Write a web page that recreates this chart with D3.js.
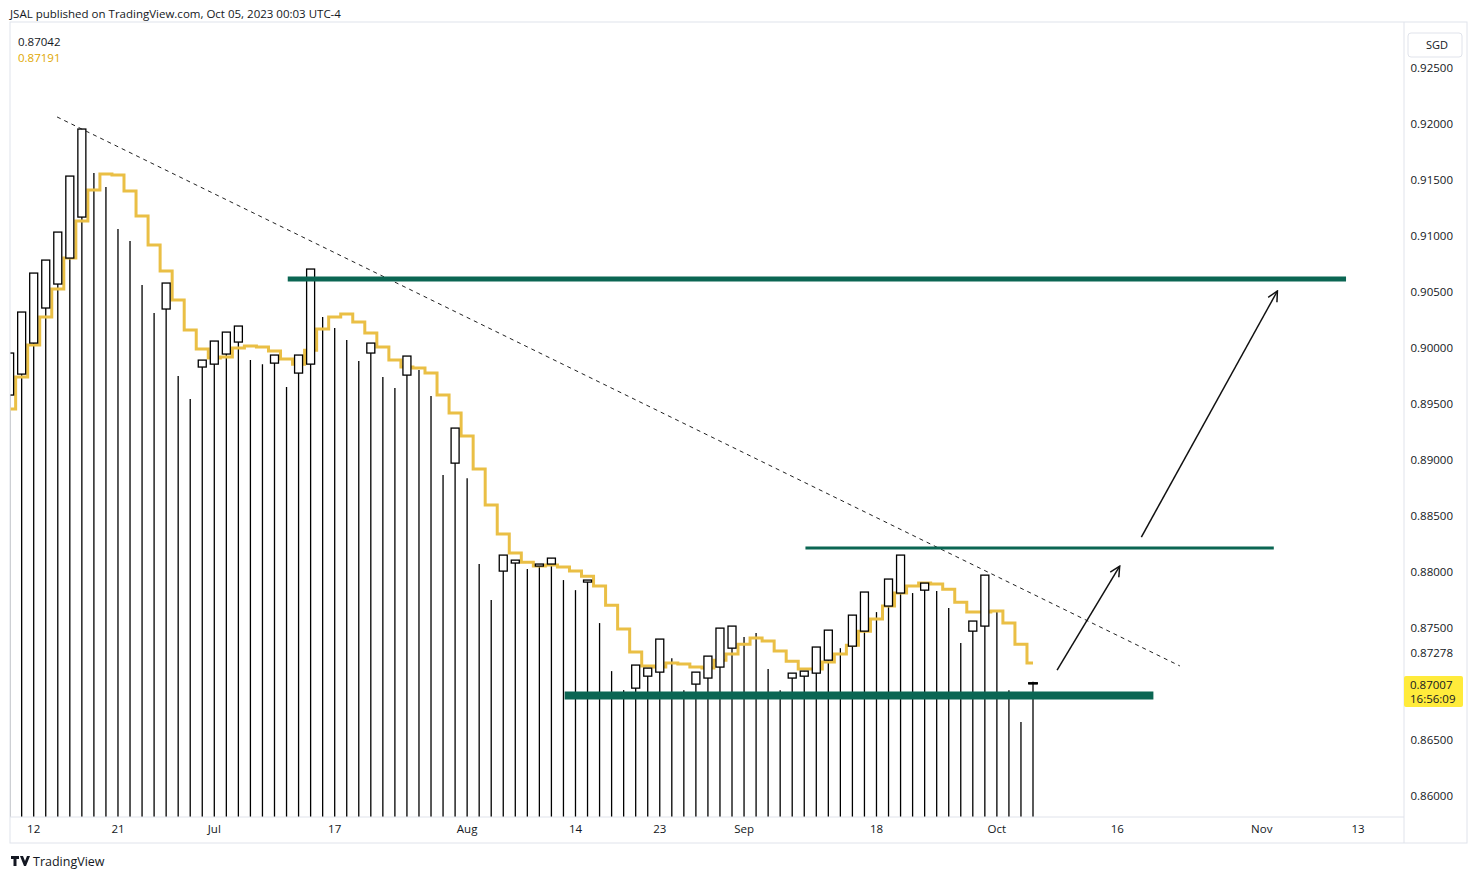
<!DOCTYPE html>
<html><head><meta charset="utf-8">
<script src="https://cdn.jsdelivr.net/npm/d3@7"></script>
<style>body{margin:0;background:#fff;font-family:"Open Sans",Roboto,sans-serif}</style>
</head><body><div id="chart"></div>
<script>
// bar index -2 = Jun 8, 0 = Jun 12, 83 = Oct 5 (trading days)
var firstIndex = -2;
var highs = [0.89955,0.90321,0.90669,0.90785,0.91035,0.91535,0.91955,0.91562,0.91437,0.91062,
  0.90955,0.90562,0.90312,0.90580,0.89749,0.89544,0.89892,0.90062,0.90142,0.90196,
  0.89892,0.89856,0.89937,0.89651,0.89937,0.90705,0.90276,0.90178,0.90071,0.89883,
  0.90044,0.89740,0.89642,0.89928,0.89803,0.89571,0.88865,0.89285,0.88838,0.88071,
  0.87749,0.88151,0.88106,0.88026,0.88071,0.88124,0.87928,0.87838,0.87928,0.87544,
  0.87115,0.86945,0.87169,0.87142,0.87401,0.87231,0.86945,0.87106,0.87249,0.87499,
  0.87517,0.87419,0.87455,0.87133,0.86945,0.87097,0.87115,0.87330,0.87481,0.87320,
  0.87615,0.87821,0.87642,0.87937,0.88151,0.87812,0.87901,0.87830,0.87678,0.87365,
  0.87562,0.87972,0.87660,0.86945,0.86660,0.87020];
var bodyHi = [0.89955,0.90321,0.90669,0.90785,0.91035,0.91535,0.91955,null,null,null,
  null,null,null,0.90580,null,null,0.89892,0.90062,0.90142,0.90196,
  null,null,0.89937,null,0.89937,0.90705,null,null,null,null,
  0.90044,null,null,0.89928,null,null,null,0.89285,null,null,
  null,0.88151,0.88106,null,0.88071,0.88124,null,null,0.87928,null,
  null,null,0.87169,0.87142,0.87401,null,null,0.87106,0.87249,0.87499,
  0.87517,null,null,null,null,0.87097,0.87115,0.87330,0.87481,null,
  0.87615,0.87821,null,0.87937,0.88151,null,0.87901,null,null,null,
  0.87562,0.87972,null,null,null,0.87010];
var bodyLo = [0.89580,0.89767,0.90044,0.90357,0.90571,0.90803,0.91169,null,null,null,
  null,null,null,0.90348,null,null,0.89830,0.89856,0.89946,0.90053,
  null,null,0.89865,null,0.89776,0.89856,null,null,null,null,
  0.89955,null,null,0.89758,null,null,null,0.88972,null,null,
  null,0.88008,0.88080,null,0.88053,0.88071,null,null,0.87910,null,
  null,null,0.86963,0.87070,0.87106,null,null,0.86999,0.87053,0.87151,
  0.87320,null,null,null,null,0.87053,0.87070,0.87097,0.87213,null,
  0.87338,0.87472,null,0.87696,0.87812,null,0.87838,null,null,null,
  0.87472,0.87517,null,null,null,0.87004];
var avgLine = [0.89455,0.89740,0.90026,0.90276,0.90526,0.90803,0.91134,0.91410,0.91553,0.91544,
  0.91401,0.91178,0.90919,0.90687,0.90428,0.90161,0.89990,0.89910,0.89919,0.89999,
  0.90017,0.90008,0.89973,0.89901,0.89856,0.89981,0.90169,0.90276,0.90303,0.90232,
  0.90133,0.90008,0.89892,0.89830,0.89821,0.89776,0.89580,0.89419,0.89214,0.88919,
  0.88598,0.88339,0.88169,0.88088,0.88053,0.88062,0.88044,0.88008,0.87963,0.87874,
  0.87704,0.87490,0.87285,0.87160,0.87151,0.87187,0.87178,0.87151,0.87142,0.87213,
  0.87267,0.87356,0.87410,0.87383,0.87294,0.87204,0.87133,0.87133,0.87196,0.87267,
  0.87347,0.87472,0.87580,0.87696,0.87812,0.87874,0.87901,0.87892,0.87847,0.87731,
  0.87642,0.87642,0.87651,0.87544,0.87356,0.87187];
var priceTicks = [0.925,0.92,0.915,0.91,0.905,0.90,0.895,0.89,0.885,0.88,0.875,0.865,0.86];
var dateTicks = [{i:0,t:"12"},{i:7,t:"21"},{i:15,t:"Jul"},{i:25,t:"17"},{i:36,t:"Aug"},{i:45,t:"14"},
  {i:52,t:"23"},{i:59,t:"Sep"},{i:70,t:"18"},{i:80,t:"Oct"},{i:90,t:"16"},{i:102,t:"Nov"},{i:110,t:"13"}];
// drawings: [index, price]
var trendLine = [[1.94,0.92063],[95.2,0.87161]];
var levels = [{a:21.1,b:109,p:0.90616,w:5},{a:64.1,b:103,p:0.88214,w:3},{a:44.1,b:93,p:0.86897,w:8}];
var arrows = [[[85.0,0.87124],[90.2,0.88053]],[[92.0,0.88312],[103.3,0.90509]]];

var W = 1477, H = 879, left = 10, right = 1404, top = 22, bottom = 817;
var x = d3.scaleLinear().domain([0, 83]).range([33.7, 1033]);
var y = d3.scaleLinear().domain([0.925, 0.86]).range([68, 796]);
var green = "#0b6653", gold = "#eabf45";

var svg = d3.select("#chart").append("svg").attr("width", W).attr("height", H);
svg.append("defs").append("marker").attr("id", "arr").attr("viewBox", "0 0 12 12")
  .attr("refX", 11).attr("refY", 6).attr("markerWidth", 12).attr("markerHeight", 12)
  .attr("markerUnits", "userSpaceOnUse").attr("orient", "auto")
  .append("path").attr("d", "M1,1 L11,6 L1,11").attr("fill", "none").attr("stroke", "#111").attr("stroke-width", 1.5);

var g = svg.append("g");
var bars = highs.map(function(h, k) { return {i: k + firstIndex, h: h, bh: bodyHi[k], bl: bodyLo[k], m: avgLine[k]}; });

g.selectAll("line.wick").data(bars).enter().append("line")
  .attr("x1", function(d) { return x(d.i); }).attr("x2", function(d) { return x(d.i); })
  .attr("y1", function(d) { return y(d.h); }).attr("y2", bottom)
  .attr("stroke", "#000").attr("stroke-width", 1.3);

g.append("path").datum(bars)
  .attr("d", d3.line().x(function(d) { return x(d.i); }).y(function(d) { return y(d.m); }).curve(d3.curveStep))
  .attr("fill", "none").attr("stroke", gold).attr("stroke-width", 3);

g.selectAll("rect.body").data(bars.filter(function(d) { return d.bh != null; })).enter().append("rect")
  .attr("x", function(d) { return x(d.i) - 4; }).attr("width", 8)
  .attr("y", function(d) { return y(d.bh); })
  .attr("height", function(d) { return Math.max(1, y(d.bl) - y(d.bh)); })
  .attr("fill", "#fff").attr("stroke", "#000").attr("stroke-width", 1.3);

// last bar cross
g.append("line").attr("x1", x(83) - 5).attr("x2", x(83) + 5).attr("y1", y(0.87007)).attr("y2", y(0.87007))
  .attr("stroke", "#000").attr("stroke-width", 2);

g.append("line").attr("x1", x(trendLine[0][0])).attr("y1", y(trendLine[0][1]))
  .attr("x2", x(trendLine[1][0])).attr("y2", y(trendLine[1][1]))
  .attr("stroke", "#222").attr("stroke-width", 1).attr("stroke-dasharray", "4,4");

g.selectAll("line.level").data(levels).enter().append("line")
  .attr("x1", function(d) { return x(d.a); }).attr("x2", function(d) { return x(d.b); })
  .attr("y1", function(d) { return y(d.p); }).attr("y2", function(d) { return y(d.p); })
  .attr("stroke", green).attr("stroke-width", function(d) { return d.w; });

g.selectAll("line.arrow").data(arrows).enter().append("line")
  .attr("x1", function(d) { return x(d[0][0]); }).attr("y1", function(d) { return y(d[0][1]); })
  .attr("x2", function(d) { return x(d[1][0]); }).attr("y2", function(d) { return y(d[1][1]); })
  .attr("stroke", "#111").attr("stroke-width", 1.5).attr("marker-end", "url(#arr)");

// mask outside plot on the left
svg.append("rect").attr("x", 0).attr("y", 22).attr("width", left).attr("height", 800).attr("fill", "#fff");

// frame
svg.append("rect").attr("x", 10).attr("y", 22).attr("width", 1457).attr("height", 821)
  .attr("fill", "none").attr("stroke", "#e0e3eb");
svg.append("line").attr("x1", 10).attr("x2", 1404).attr("y1", bottom).attr("y2", bottom).attr("stroke", "#e0e3eb");
svg.append("line").attr("x1", right).attr("x2", right).attr("y1", 22).attr("y2", 843).attr("stroke", "#e0e3eb");

// price axis
svg.selectAll("text.py").data(priceTicks).enter().append("text")
  .attr("x", 1453).attr("y", function(d) { return y(d) + 4; }).attr("text-anchor", "end")
  .attr("font-size", 11.5).attr("fill", "#131722").text(function(d) { return d.toFixed(5); });
svg.append("text").attr("x", 1453).attr("y", y(0.87278) + 4).attr("text-anchor", "end")
  .attr("font-size", 11.5).attr("fill", "#131722").text("0.87278");
svg.append("rect").attr("x", 1404).attr("y", 676).attr("width", 59).attr("height", 31).attr("rx", 2).attr("fill", "#ffeb3b");
svg.append("text").attr("x", 1410).attr("y", 689).attr("font-size", 11.5).attr("fill", "#131722").text("0.87007");
svg.append("text").attr("x", 1410).attr("y", 703).attr("font-size", 11.5).attr("fill", "#131722").text("16:56:09");
svg.append("rect").attr("x", 1408).attr("y", 33).attr("width", 54).attr("height", 24).attr("rx", 3)
  .attr("fill", "#fff").attr("stroke", "#e0e3eb");
svg.append("text").attr("x", 1426).attr("y", 49).attr("font-size", 11).attr("fill", "#131722").text("SGD");

// date axis
svg.selectAll("text.dx").data(dateTicks).enter().append("text")
  .attr("x", function(d) { return x(d.i); }).attr("y", 833).attr("text-anchor", "middle")
  .attr("font-size", 11.5).attr("fill", "#131722").text(function(d) { return d.t; });

svg.append("text").attr("x", 10).attr("y", 18).attr("font-size", 11.5).attr("fill", "#131722")
  .text("JSAL published on TradingView.com, Oct 05, 2023 00:03 UTC-4");
svg.append("text").attr("x", 18).attr("y", 46).attr("font-size", 11.5).attr("fill", "#131722").text("0.87042");
svg.append("text").attr("x", 18).attr("y", 62).attr("font-size", 11.5).attr("fill", "#e0a800").text("0.87191");
svg.append("path").attr("d", "M11,856 h8 v3 h-2.5 v7 h-3 v-7 h-2.5 z M20,856 h3 l2,5 l2,-5 h3 l-4,10 h-2 z").attr("fill", "#131722");
svg.append("text").attr("x", 33).attr("y", 866).attr("font-size", 12.5).attr("fill", "#131722").text("TradingView");
</script></body></html>
